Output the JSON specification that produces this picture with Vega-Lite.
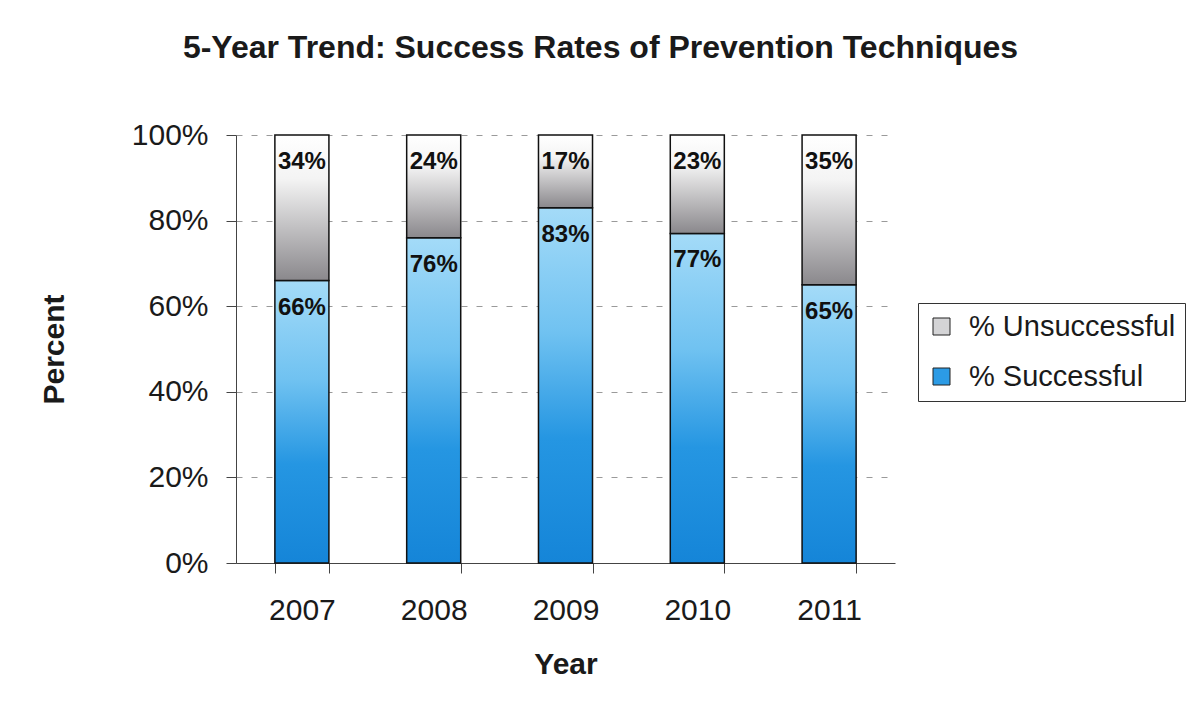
{
  "$schema": "https://vega.github.io/schema/vega-lite/v6.json",
  "width": 659,
  "height": 428,
  "autosize": {"type": "none"},
  "padding": {"left": 236, "top": 135, "right": 293, "bottom": 151},
  "background": "white",
  "config": {
    "font": "Liberation Sans",
    "view": {"stroke": null},
    "axis": {"labelFont": "Liberation Sans", "titleFont": "Liberation Sans", "labelColor": "#1a1a1a", "titleColor": "#1a1a1a"},
    "legend": {"labelFont": "Liberation Sans"}
  },
  "title": {
    "text": "5-Year Trend: Success Rates of Prevention Techniques",
    "fontSize": 32,
    "fontWeight": "bold",
    "color": "#1a1a1a",
    "anchor": "middle",
    "dx": 35,
    "offset": 55
  },
  "data": {
    "values": [
      {"year": "2007", "series": "% Successful", "value": 0.66},
      {"year": "2007", "series": "% Unsuccessful", "value": 0.34},
      {"year": "2008", "series": "% Successful", "value": 0.76},
      {"year": "2008", "series": "% Unsuccessful", "value": 0.24},
      {"year": "2009", "series": "% Successful", "value": 0.83},
      {"year": "2009", "series": "% Unsuccessful", "value": 0.17},
      {"year": "2010", "series": "% Successful", "value": 0.77},
      {"year": "2010", "series": "% Unsuccessful", "value": 0.23},
      {"year": "2011", "series": "% Successful", "value": 0.65},
      {"year": "2011", "series": "% Unsuccessful", "value": 0.35}
    ]
  },
  "transform": [
    {"stack": "value", "groupby": ["year"], "sort": [{"field": "series", "order": "ascending"}], "as": ["v0", "v1"]}
  ],
  "encoding": {
    "x": {
      "field": "year",
      "type": "nominal",
      "scale": {"paddingInner": 0.59, "paddingOuter": 0.295},
      "axis": {
        "title": "Year",
        "titleFontSize": 30,
        "titleFontWeight": "bold",
        "titlePadding": 24,
        "labelAngle": 0,
        "labelFontSize": 30,
        "labelPadding": 22,
        "tickBand": "extent",
        "tickSize": 10,
        "tickColor": "#444",
        "domainColor": "#444",
        "grid": false
      }
    },
    "y": {
      "field": "v0",
      "type": "quantitative",
      "scale": {"domain": [0, 1], "nice": false},
      "axis": {
        "title": "Percent",
        "titleFontSize": 30,
        "titleFontWeight": "bold",
        "titlePadding": 62,
        "values": [0, 0.2, 0.4, 0.6, 0.8, 1],
        "format": ".0%",
        "labelFontSize": 30,
        "labelPadding": 18,
        "tickSize": 10,
        "tickColor": "#444",
        "domainColor": "#444",
        "grid": true,
        "gridColor": "#9a9a9a",
        "gridDash": [6, 9],
        "gridWidth": 1
      }
    },
    "y2": {"field": "v1"}
  },
  "layer": [
    {
      "mark": {"type": "bar"},
      "encoding": {
        "color": {
          "field": "series",
          "type": "nominal",
          "scale": {"domain": ["% Unsuccessful", "% Successful"], "range": ["#d4d4d6", "#2c9be5"]},
          "legend": {
            "title": null,
            "orient": "none",
            "legendX": 682,
            "legendY": 168,
            "labelFontSize": 29,
            "labelLimit": 400,
            "labelColor": "#1a1a1a",
            "symbolType": "square",
            "symbolSize": 289,
            "symbolStrokeColor": "#222",
            "symbolStrokeWidth": 1,
            "labelOffset": 13,
            "rowPadding": 20,
            "padding": 9,
            "strokeColor": "#333",
            "fillColor": "white"
          }
        }
      }
    },
    {
      "transform": [{"filter": "datum.series === '% Successful'"}],
      "mark": {
        "type": "bar",
        "stroke": "#111",
        "strokeWidth": 1.5,
        "fill": {
          "gradient": "linear",
          "x1": 0, "y1": 0, "x2": 0, "y2": 1,
          "stops": [
            {"offset": 0, "color": "#a4dbf8"},
            {"offset": 0.35, "color": "#70c2f1"},
            {"offset": 0.65, "color": "#2596e2"},
            {"offset": 1, "color": "#1585d8"}
          ]
        }
      }
    },
    {
      "transform": [{"filter": "datum.series === '% Unsuccessful'"}],
      "mark": {
        "type": "bar",
        "stroke": "#111",
        "strokeWidth": 1.5,
        "fill": {
          "gradient": "linear",
          "x1": 0, "y1": 0, "x2": 0, "y2": 1,
          "stops": [
            {"offset": 0, "color": "#ffffff"},
            {"offset": 0.3, "color": "#f4f4f4"},
            {"offset": 1, "color": "#8a888c"}
          ]
        }
      }
    },
    {
      "mark": {"type": "text", "baseline": "top", "dy": 15, "fontSize": 24, "fontWeight": "bold", "color": "#111"},
      "encoding": {
        "y": {"field": "v1", "type": "quantitative"},
        "y2": null,
        "text": {"field": "value", "type": "quantitative", "format": ".0%"}
      }
    }
  ]
}
